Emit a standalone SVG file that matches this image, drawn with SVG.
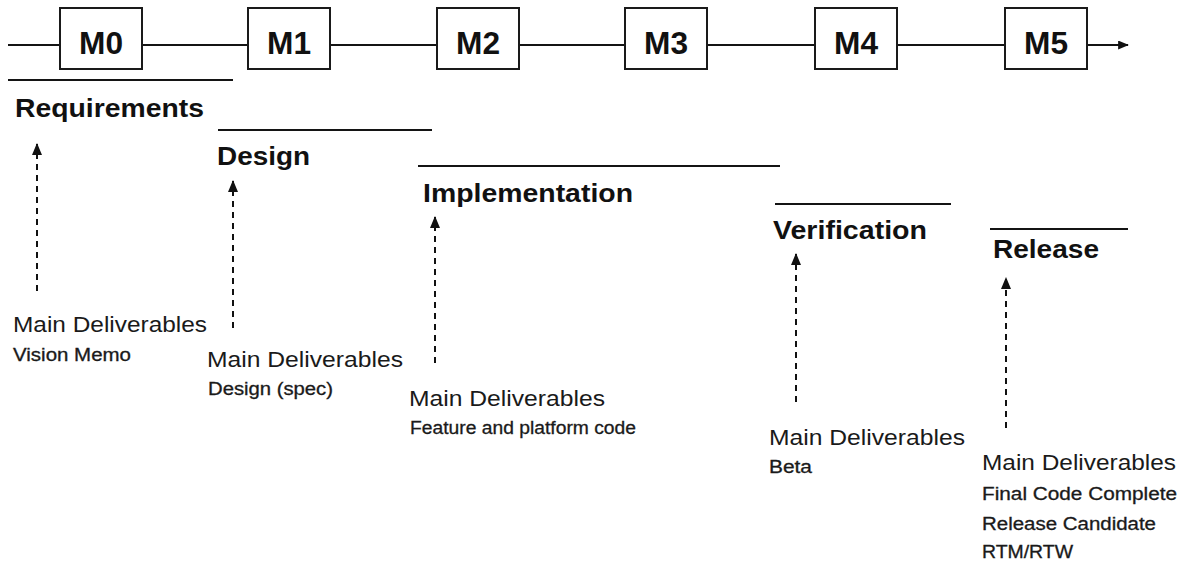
<svg xmlns="http://www.w3.org/2000/svg" width="1182" height="563" viewBox="0 0 1182 563">
<style>
.ln{stroke:#141414;stroke-width:2;fill:none}
.box{stroke:#1a1a1a;stroke-width:2;fill:#fff}
.ms{font-family:"Liberation Sans",Arial,sans-serif;font-weight:bold;font-size:31px;fill:#111;text-anchor:middle}
.ph{font-family:"Liberation Sans",Arial,sans-serif;font-weight:bold;font-size:26px;fill:#111}
.md{font-family:"Liberation Sans",Arial,sans-serif;font-size:22.5px;fill:#1a1a1a}
.it{font-family:"Liberation Sans",Arial,sans-serif;font-size:17.5px;fill:#1a1a1a;stroke:#1a1a1a;stroke-width:0.3}
.da{stroke:#111;stroke-width:2;stroke-dasharray:6 5;fill:none;marker-end:url(#ah)}
</style>
<defs>
<marker id="ah" viewBox="0 0 12 10" refX="11" refY="5" markerWidth="6" markerHeight="5" orient="auto" markerUnits="strokeWidth">
<path d="M0,0 L12,5 L0,10 z" fill="#111"/>
</marker>
<marker id="ah2" viewBox="0 0 12 10" refX="11" refY="5" markerWidth="6" markerHeight="4.5" orient="auto" markerUnits="strokeWidth">
<path d="M0,0 L12,5 L0,10 z" fill="#111"/>
</marker>
</defs>
<rect width="1182" height="563" fill="#fff"/>
<g id="connectors">
<line class="ln" x1="8" y1="45" x2="60" y2="45"/>
<line class="ln" x1="142" y1="45" x2="248" y2="45"/>
<line class="ln" x1="330" y1="45" x2="437" y2="45"/>
<line class="ln" x1="519" y1="45" x2="625" y2="45"/>
<line class="ln" x1="707" y1="45" x2="815" y2="45"/>
<line class="ln" x1="897" y1="45" x2="1005" y2="45"/>
<line class="ln" x1="1087" y1="45" x2="1128" y2="45" marker-end="url(#ah2)"/>
<line class="da" x1="37" y1="291" x2="37" y2="144"/>
<line class="da" x1="233" y1="328" x2="233" y2="181"/>
<line class="da" x1="435" y1="363" x2="435" y2="217"/>
<line class="da" x1="796" y1="402" x2="796" y2="254"/>
<line class="da" x1="1006" y1="428" x2="1006" y2="278"/>
</g>
<g id="M0"><rect class="box" x="60" y="8" width="82" height="61"/><text class="ms" x="101" y="54" textLength="44" lengthAdjust="spacingAndGlyphs">M0</text></g>
<g id="M1"><rect class="box" x="248" y="8" width="82" height="61"/><text class="ms" x="289" y="54" textLength="44" lengthAdjust="spacingAndGlyphs">M1</text></g>
<g id="M2"><rect class="box" x="437" y="8" width="82" height="61"/><text class="ms" x="478" y="54" textLength="44" lengthAdjust="spacingAndGlyphs">M2</text></g>
<g id="M3"><rect class="box" x="625" y="8" width="82" height="61"/><text class="ms" x="666" y="54" textLength="44" lengthAdjust="spacingAndGlyphs">M3</text></g>
<g id="M4"><rect class="box" x="815" y="8" width="82" height="61"/><text class="ms" x="856" y="54" textLength="44" lengthAdjust="spacingAndGlyphs">M4</text></g>
<g id="M5"><rect class="box" x="1005" y="8" width="82" height="61"/><text class="ms" x="1046" y="54" textLength="44" lengthAdjust="spacingAndGlyphs">M5</text></g>
<g id="requirements">
<line class="ln" x1="8" y1="80" x2="233" y2="80"/>
<text class="ph" x="15" y="117" textLength="189" lengthAdjust="spacingAndGlyphs">Requirements</text>
<text class="md" x="13" y="332" textLength="194" lengthAdjust="spacingAndGlyphs">Main Deliverables</text>
<text class="it" x="13" y="361" textLength="118" lengthAdjust="spacingAndGlyphs">Vision Memo</text>
</g>
<g id="design">
<line class="ln" x1="218" y1="130" x2="432" y2="130"/>
<text class="ph" x="217" y="165" textLength="93" lengthAdjust="spacingAndGlyphs">Design</text>
<text class="md" x="207" y="367" textLength="196" lengthAdjust="spacingAndGlyphs">Main Deliverables</text>
<text class="it" x="208" y="395" textLength="125" lengthAdjust="spacingAndGlyphs">Design (spec)</text>
</g>
<g id="implementation">
<line class="ln" x1="418" y1="166" x2="780" y2="166"/>
<text class="ph" x="423" y="202" textLength="210" lengthAdjust="spacingAndGlyphs">Implementation</text>
<text class="md" x="409" y="406" textLength="196" lengthAdjust="spacingAndGlyphs">Main Deliverables</text>
<text class="it" x="410" y="434" textLength="226" lengthAdjust="spacingAndGlyphs">Feature and platform code</text>
</g>
<g id="verification">
<line class="ln" x1="775" y1="204" x2="951" y2="204"/>
<text class="ph" x="773" y="239" textLength="154" lengthAdjust="spacingAndGlyphs">Verification</text>
<text class="md" x="769" y="445" textLength="196" lengthAdjust="spacingAndGlyphs">Main Deliverables</text>
<text class="it" x="769" y="473" textLength="43" lengthAdjust="spacingAndGlyphs">Beta</text>
</g>
<g id="release">
<line class="ln" x1="990" y1="229" x2="1128" y2="229"/>
<text class="ph" x="993" y="258" textLength="106" lengthAdjust="spacingAndGlyphs">Release</text>
<text class="md" x="982" y="470" textLength="194" lengthAdjust="spacingAndGlyphs">Main Deliverables</text>
<text class="it" x="982" y="500" textLength="195" lengthAdjust="spacingAndGlyphs">Final Code Complete</text>
<text class="it" x="982" y="530" textLength="174" lengthAdjust="spacingAndGlyphs">Release Candidate</text>
<text class="it" x="982" y="558" textLength="91" lengthAdjust="spacingAndGlyphs">RTM/RTW</text>
</g>
</svg>
